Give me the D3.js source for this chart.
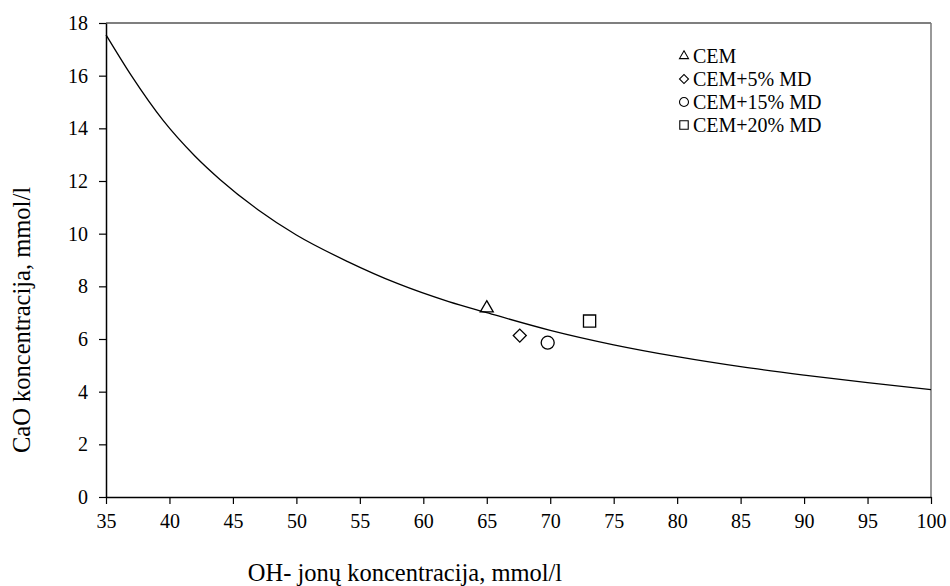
<!DOCTYPE html>
<html>
<head>
<meta charset="utf-8">
<script src="https://cdn.jsdelivr.net/npm/d3@7"></script>
<style>
  html, body { margin: 0; padding: 0; background: #fff; }
  svg { display: block; }
  svg text { font-family: "Liberation Serif", "Tinos", "Times New Roman", "DejaVu Serif", serif !important; }
</style>
</head>
<body>
<svg id="chart" width="950" height="586"></svg>
<script>
// Fitted curve, points
const curveX = [35, 37, 39.5, 42, 44, 47, 50, 54, 58, 62, 65, 70, 75, 80, 85, 90, 95, 100];
const curveY = [17.55, 16.0, 14.3, 12.95, 12.05, 10.9, 9.95, 8.95, 8.1, 7.42, 7.0, 6.33, 5.78, 5.33, 4.95, 4.63, 4.34, 4.08];

// Measured points
const seriesNames = ["CEM", "CEM+5% MD", "CEM+15% MD", "CEM+20% MD"];
const seriesX = [65.0, 67.6, 69.8, 73.1];
const seriesY = [7.17, 6.13, 5.86, 6.68];
const seriesShapes = ["triangle", "diamond", "circle", "square"];

const xTicks = [35, 40, 45, 50, 55, 60, 65, 70, 75, 80, 85, 90, 95, 100];
const yTicks = [0, 2, 4, 6, 8, 10, 12, 14, 16, 18];

const xTitle = "OH- jonų koncentracija, mmol/l";
const yTitle = "CaO koncentracija, mmol/l";

const svg = d3.select("#chart");
const L = 106, R = 931, T = 23, B = 497;

const x = d3.scaleLinear().domain([35, 100]).range([L, R]);
const y = d3.scaleLinear().domain([0, 18]).range([B, T]);

// frame (top and right)
svg.append("line").attr("x1", L).attr("x2", R).attr("y1", T).attr("y2", T)
  .attr("stroke", "#555").attr("stroke-width", 1.5);
svg.append("line").attr("x1", R).attr("x2", R).attr("y1", T).attr("y2", B)
  .attr("stroke", "#777").attr("stroke-width", 1.5);

// axes
const xAxis = svg.append("g").attr("transform", `translate(0,${B})`)
  .call(d3.axisBottom(x).tickValues(xTicks).tickSize(7).tickPadding(10).tickSizeOuter(0));
const yAxis = svg.append("g").attr("transform", `translate(${L},0)`)
  .call(d3.axisLeft(y).tickValues(yTicks).tickSize(7).tickPadding(11).tickSizeOuter(0));

[xAxis, yAxis].forEach(g => {
  g.attr("font-family", null);
  g.select(".domain").attr("stroke", "#000").attr("stroke-width", 1.5);
  g.selectAll(".tick line").attr("stroke", "#000").attr("stroke-width", 1.2);
  g.selectAll(".tick text").attr("fill", "#000").style("font-size", "20px");
});

// curve
const pts = curveX.map((v, i) => [v, curveY[i]]);
svg.append("path").datum(pts)
  .attr("fill", "none").attr("stroke", "#000").attr("stroke-width", 1.3)
  .attr("d", d3.line().x(d => x(d[0])).y(d => y(d[1])).curve(d3.curveMonotoneX));

function symPath(shape, s) {
  if (shape === "triangle") return d3.symbol(d3.symbolTriangle, Math.sqrt(3) / 4 * s * s)();
  if (shape === "circle") return d3.symbol(d3.symbolCircle, Math.PI * s * s / 4)();
  if (shape === "square") return d3.symbol(d3.symbolSquare, s * s * 0.88)();
  if (shape === "diamond") return d3.symbol(d3.symbolSquare, s * s / 2)();
}

// markers
seriesX.forEach((v, i) => {
  const sh = seriesShapes[i];
  svg.append("path")
    .attr("d", symPath(sh, 13))
    .attr("transform", `translate(${x(v)},${y(seriesY[i])})` + (sh === "diamond" ? " rotate(45)" : ""))
    .attr("fill", "none").attr("stroke", "#000").attr("stroke-width", 1.3);
});

// legend
const legY0 = 56, legDy = 23;
seriesNames.forEach((n, i) => {
  const sh = seriesShapes[i];
  const cy = legY0 + i * legDy;
  svg.append("path")
    .attr("d", symPath(sh, 9))
    .attr("transform", `translate(684,${cy})` + (sh === "diamond" ? " rotate(45)" : ""))
    .attr("fill", "none").attr("stroke", "#000").attr("stroke-width", 1.1);
  svg.append("text").attr("x", 693).attr("y", cy + 7)
    .style("font-size", "20px").attr("fill", "#000").text(n);
});

// titles
svg.append("text").attr("x", 405).attr("y", 581).attr("text-anchor", "middle")
  .style("font-size", "24.5px").attr("fill", "#000").text(xTitle);
svg.append("text").attr("transform", "translate(30,320) rotate(-90)").attr("text-anchor", "middle")
  .style("font-size", "24.5px").attr("fill", "#000").text(yTitle);
</script>
</body>
</html>
